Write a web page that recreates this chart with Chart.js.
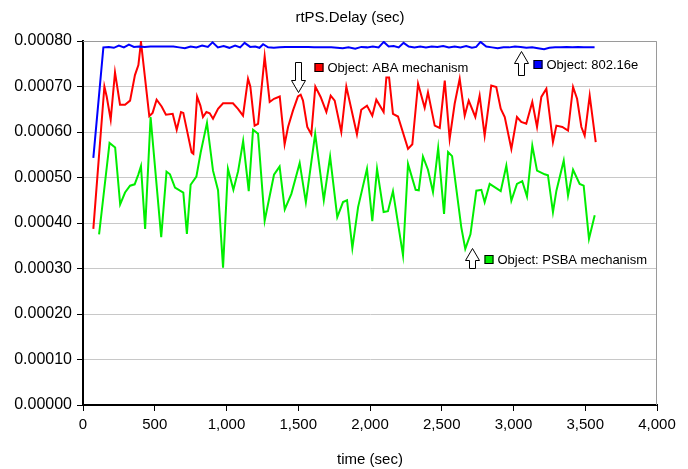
<!DOCTYPE html>
<html><head><meta charset="utf-8">
<script src="https://cdn.jsdelivr.net/npm/chart.js@4/dist/chart.umd.min.js"></script>
<style>html,body{margin:0;padding:0;background:#fff}#wrap{width:688px;height:469px}</style>
</head><body><div id="wrap"><canvas id="c" width="688" height="469"></canvas></div>
<script>
const chartTitle = 'rtPS.Delay (sec)';
const xAxisTitle = 'time (sec)';
const xTickValues = [0, 500, 1000, 1500, 2000, 2500, 3000, 3500, 4000];
const yTickValues = [0, 1e-4, 2e-4, 3e-4, 4e-4, 5e-4, 6e-4, 7e-4, 8e-4];

const seriesNames = ['Object: 802.16e', 'Object: ABA mechanism', 'Object: PSBA mechanism'];
const seriesColors = ['#0000ff', '#ff0000', '#00ee00'];

const blueTime = [72,142,180,215,250,285,320,355,390,430,470,510,550,590,630,670,710,750,790,830,870,903,940,980,1020,1060,1095,1126,1165,1200,1230,1255,1290,1330,1370,1410,1450,1490,1530,1570,1610,1650,1690,1730,1770,1810,1850,1897,1940,1980,2020,2060,2096,2130,2165,2200,2234,2270,2310,2350,2390,2430,2470,2510,2550,2590,2630,2670,2710,2740,2770,2810,2850,2890,2930,2970,3010,3050,3090,3130,3170,3213,3250,3290,3330,3370,3410,3450,3490,3530,3565];
const blueDelay = [5.43e-4,7.86e-4,7.87e-4,7.85e-4,7.9e-4,7.86e-4,7.92e-4,7.87e-4,7.88e-4,7.87e-4,7.88e-4,7.88e-4,7.88e-4,7.88e-4,7.88e-4,7.86e-4,7.84e-4,7.88e-4,7.86e-4,7.9e-4,7.87e-4,7.97e-4,7.86e-4,7.89e-4,7.85e-4,7.9e-4,7.86e-4,7.96e-4,7.87e-4,7.88e-4,7.85e-4,7.93e-4,7.86e-4,7.85e-4,7.86e-4,7.87e-4,7.87e-4,7.87e-4,7.87e-4,7.87e-4,7.86e-4,7.86e-4,7.86e-4,7.86e-4,7.85e-4,7.84e-4,7.86e-4,7.83e-4,7.87e-4,7.86e-4,7.88e-4,7.86e-4,7.98e-4,7.88e-4,7.89e-4,7.86e-4,7.96e-4,7.88e-4,7.86e-4,7.88e-4,7.86e-4,7.88e-4,7.87e-4,7.89e-4,7.86e-4,7.88e-4,7.86e-4,7.89e-4,7.85e-4,7.87e-4,7.98e-4,7.88e-4,7.86e-4,7.84e-4,7.86e-4,7.86e-4,7.88e-4,7.87e-4,7.85e-4,7.86e-4,7.84e-4,7.82e-4,7.85e-4,7.86e-4,7.86e-4,7.87e-4,7.86e-4,7.87e-4,7.86e-4,7.86e-4,7.86e-4];

const redTime = [72,149,165,193,223,258,293,328,362,386,404,462,485,513,548,578,625,653,683,699,757,769,795,818,836,860,883,906,941,976,1045,1080,1115,1150,1166,1196,1220,1266,1301,1331,1371,1405,1429,1463,1498,1517,1533,1563,1591,1619,1656,1696,1726,1754,1800,1835,1909,1939,1979,2016,2044,2095,2114,2133,2160,2195,2265,2295,2335,2381,2404,2451,2486,2521,2555,2590,2625,2660,2688,2734,2764,2799,2845,2880,2911,2939,2985,3024,3054,3089,3131,3164,3194,3229,3275,3299,3340,3380,3415,3443,3473,3496,3531,3573];
const redDelay = [3.87e-4,7.0e-4,6.78e-4,6.27e-4,7.31e-4,6.6e-4,6.6e-4,6.69e-4,7.25e-4,7.47e-4,7.98e-4,6.35e-4,6.42e-4,6.71e-4,6.56e-4,6.38e-4,6.4e-4,6.05e-4,6.44e-4,6.42e-4,5.55e-4,5.52e-4,6.78e-4,6.58e-4,6.33e-4,6.44e-4,6.41e-4,6.29e-4,6.51e-4,6.63e-4,6.63e-4,6.51e-4,6.36e-4,7.17e-4,7.0e-4,6.14e-4,6.18e-4,7.66e-4,6.66e-4,6.73e-4,6.78e-4,5.73e-4,6.11e-4,6.47e-4,6.78e-4,6.82e-4,6.69e-4,6.11e-4,5.95e-4,7.0e-4,6.77e-4,6.44e-4,6.8e-4,6.69e-4,6.0e-4,7.0e-4,5.95e-4,6.49e-4,6.58e-4,6.36e-4,6.71e-4,6.44e-4,7.2e-4,7.2e-4,6.4e-4,6.34e-4,5.63e-4,5.73e-4,7.06e-4,6.53e-4,6.87e-4,6.14e-4,6.09e-4,7.13e-4,5.85e-4,6.62e-4,7.17e-4,6.36e-4,6.69e-4,6.33e-4,6.8e-4,5.92e-4,7.02e-4,6.99e-4,6.51e-4,6.33e-4,5.63e-4,6.33e-4,6.22e-4,6.18e-4,6.66e-4,6.11e-4,6.77e-4,6.95e-4,5.78e-4,6.14e-4,6.11e-4,6.03e-4,6.99e-4,6.73e-4,6.11e-4,5.92e-4,6.8e-4,5.78e-4];

const greenTime = [112,185,224,259,293,328,360,386,404,433,471,545,582,606,641,676,699,724,750,790,820,864,906,941,976,1010,1048,1081,1116,1155,1185,1220,1266,1331,1370,1406,1452,1510,1553,1618,1678,1722,1772,1812,1840,1877,1917,1979,2016,2049,2095,2125,2160,2230,2265,2318,2340,2369,2404,2439,2475,2516,2544,2572,2636,2664,2700,2741,2776,2799,2834,2911,2950,2985,3024,3061,3094,3131,3164,3217,3240,3275,3299,3350,3380,3415,3461,3489,3526,3566];
const greenDelay = [3.75e-4,5.76e-4,5.66e-4,4.41e-4,4.67e-4,4.82e-4,4.85e-4,5.07e-4,5.25e-4,3.87e-4,6.33e-4,3.69e-4,5.13e-4,5.07e-4,4.78e-4,4.71e-4,4.67e-4,3.76e-4,4.84e-4,5.02e-4,5.55e-4,6.2e-4,5.15e-4,4.72e-4,3.02e-4,5.19e-4,4.73e-4,5.14e-4,5.8e-4,4.7e-4,6.05e-4,5.96e-4,4.05e-4,5.06e-4,5.24e-4,4.3e-4,4.64e-4,5.32e-4,4.46e-4,5.96e-4,4.5e-4,5.46e-4,4.13e-4,4.46e-4,4.5e-4,3.45e-4,4.35e-4,5.19e-4,4.04e-4,5.19e-4,4.24e-4,4.26e-4,4.7e-4,3.29e-4,5.3e-4,4.73e-4,4.72e-4,5.46e-4,5.17e-4,4.68e-4,5.65e-4,4.2e-4,5.56e-4,5.47e-4,3.91e-4,3.43e-4,3.75e-4,4.71e-4,4.73e-4,4.46e-4,4.86e-4,4.7e-4,5.26e-4,4.49e-4,4.86e-4,4.92e-4,4.58e-4,5.7e-4,5.15e-4,5.07e-4,5.05e-4,4.24e-4,4.71e-4,5.37e-4,4.6e-4,5.17e-4,4.86e-4,4.82e-4,3.65e-4,4.17e-4];

// annotation callouts (anchored in data units at the arrow tip)
const noteSeries = [1, 0, 2];
const noteTime = [1500, 3050, 2710];
const noteDelay = [6.87e-4, 7.77e-4, 3.46e-4];
const noteDir = ['down', 'up', 'up'];

const FONT = "'Liberation Sans', Arial, sans-serif";

function pts(t, v) { return t.map((x, i) => ({ x: x, y: v[i] })); }

const frame = {
  id: 'frame',
  beforeDatasetsDraw(chart) {
    const a = chart.chartArea, c = chart.ctx;
    c.save();
    c.strokeStyle = '#9a9a9a'; c.lineWidth = 1;
    c.beginPath();
    c.moveTo(a.left, a.top + 0.5); c.lineTo(a.right - 0.5, a.top + 0.5); c.lineTo(a.right - 0.5, a.bottom);
    c.stroke();
    c.restore();
  },
  afterDraw(chart) {
    const c = chart.ctx;
    c.save();
    c.fillStyle = '#000';
    c.font = '15px ' + FONT;
    c.textAlign = 'center'; c.textBaseline = 'middle';
    c.fillText(chartTitle, 350, 18);
    c.restore();
  }
};

const notes = {
  id: 'notes',
  afterDatasetsDraw(chart) {
    const c = chart.ctx, xs = chart.scales.x, ys = chart.scales.y;
    c.save();
    noteTime.forEach((t, i) => {
      const px = Math.round(xs.getPixelForValue(t)) + 0.5;
      const py = Math.round(ys.getPixelForValue(noteDelay[i])) + 0.5;
      const down = noteDir[i] === 'down';
      const len = down ? 30 : (i === 1 ? 24 : 20);
      const s = down ? -1 : 1;
      const head = 12, hw = 7, sw = 3;
      c.beginPath();
      c.moveTo(px, py);
      c.lineTo(px - hw, py + s * head);
      c.lineTo(px - sw, py + s * head);
      c.lineTo(px - sw, py + s * len);
      c.lineTo(px + sw, py + s * len);
      c.lineTo(px + sw, py + s * head);
      c.lineTo(px + hw, py + s * head);
      c.closePath();
      c.fillStyle = '#fff'; c.fill();
      c.strokeStyle = '#000'; c.lineWidth = 1; c.stroke();
      const cy = down ? py - 25 : py + (i === 1 ? 13 : 11);
      const bx = px + (down ? 16 : 12);
      c.fillStyle = seriesColors[noteSeries[i]];
      c.fillRect(bx, cy - 4.5, 9, 9);
      c.strokeStyle = '#000'; c.lineWidth = 1;
      c.strokeRect(bx + 0.5, cy - 4, 8, 8);
      c.fillStyle = '#000';
      c.font = '13px ' + FONT;
      c.textBaseline = 'middle'; c.textAlign = 'left';
      c.fillText(seriesNames[noteSeries[i]], bx + 13, cy + 0.5);
    });
    c.restore();
  }
};

new Chart(document.getElementById('c'), {
  type: 'line',
  data: {
    datasets: [
      { label: seriesNames[0], data: pts(blueTime, blueDelay), borderColor: seriesColors[0], borderWidth: 2, pointRadius: 0, tension: 0, fill: false },
      { label: seriesNames[1], data: pts(redTime, redDelay), borderColor: seriesColors[1], borderWidth: 2, pointRadius: 0, tension: 0, fill: false },
      { label: seriesNames[2], data: pts(greenTime, greenDelay), borderColor: seriesColors[2], borderWidth: 2, pointRadius: 0, tension: 0, fill: false }
    ]
  },
  options: {
    responsive: false,
    animation: false,
    layout: { padding: { left: 0, right: 31, top: 41, bottom: 0 } },
    plugins: {
      legend: { display: false },
      tooltip: { enabled: false },
      title: { display: false }
    },
    scales: {
      x: {
        type: 'linear', min: 0, max: 4000,
        afterBuildTicks(s) { s.ticks = xTickValues.map(v => ({ value: v })); },
        afterFit(s) { s.height = 64; },
        ticks: { color: '#000', font: { family: FONT, size: 15 }, padding: 5, maxRotation: 0, autoSkip: false,
          callback: v => v.toLocaleString('en-US') },
        grid: { drawOnChartArea: false, tickLength: 6, tickColor: '#000', color: '#000' },
        border: { color: '#000', width: 2 },
        title: { display: true, text: xAxisTitle, color: '#000', font: { family: FONT, size: 15 }, padding: { top: 4, bottom: 0 } }
      },
      y: {
        min: 0, max: 8e-4,
        afterBuildTicks(s) { s.ticks = yTickValues.map(v => ({ value: v })); },
        afterFit(s) { s.width = 83; },
        ticks: { color: '#000', font: { family: FONT, size: 16 }, padding: 5, callback: v => Number(v).toFixed(5) },
        grid: { color: '#c8c8c8', tickColor: '#000', tickLength: 6, lineWidth: 1 },
        border: { color: '#000', width: 2 }
      }
    }
  },
  plugins: [frame, notes]
});
</script>
</body></html>
